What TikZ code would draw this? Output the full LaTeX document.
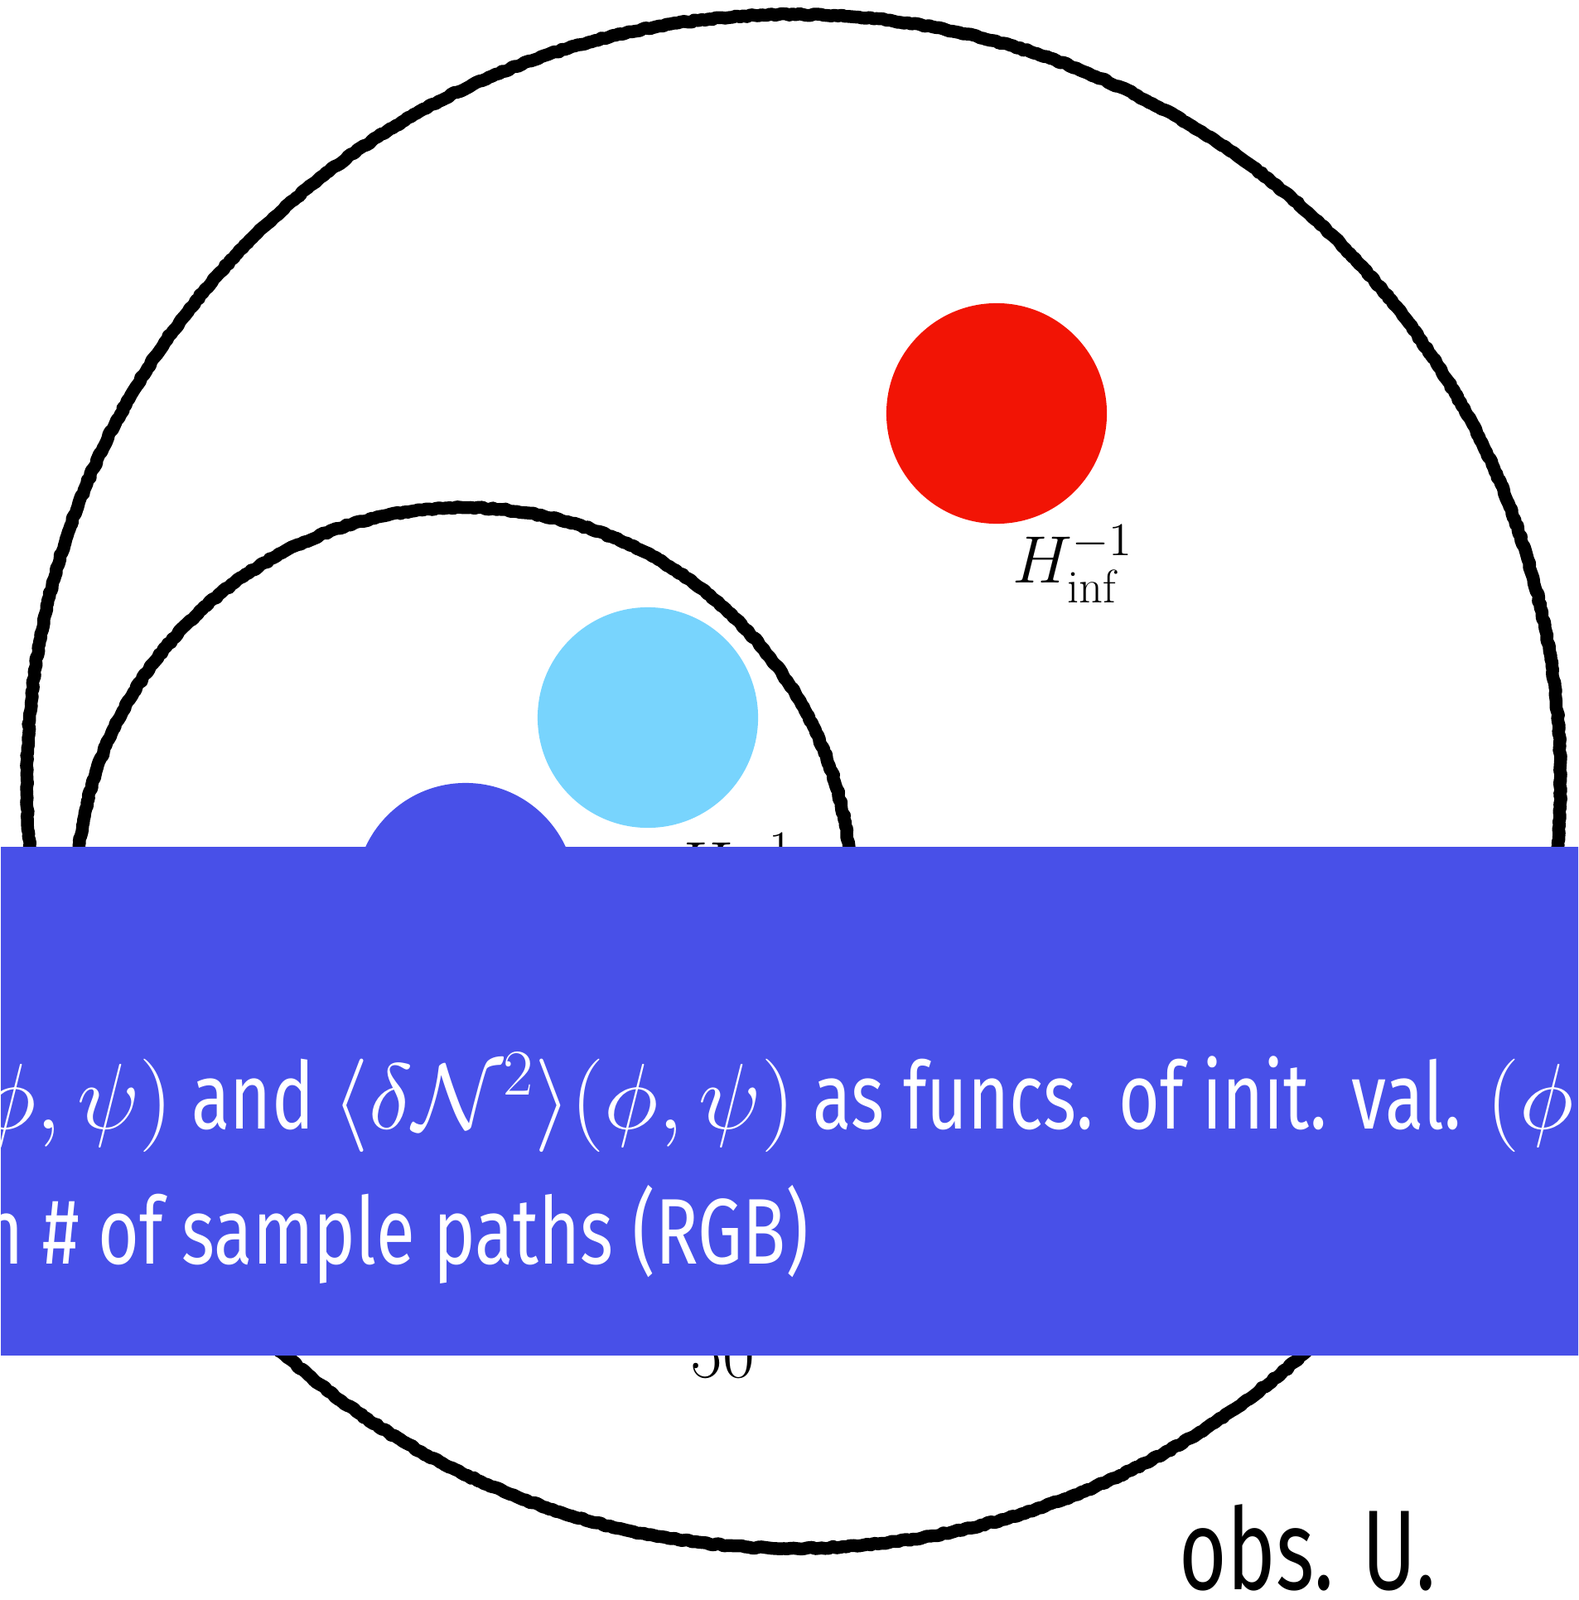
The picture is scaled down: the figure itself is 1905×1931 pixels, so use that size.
\RequirePackage{fix-cm}
\documentclass[tikz,border=0pt]{standalone}
\usepackage{amsmath,amssymb}
\usepackage{fontspec}
\newfontfamily\dosisfont[FakeStretch=0.76]{Fira Sans}
\newfontfamily\obsfont[FakeStretch=0.72]{Fira Sans}
\usetikzlibrary{decorations.pathmorphing, positioning}
\definecolor{bannerblue}{RGB}{72,80,232}
\definecolor{infred}{RGB}{242,20,5}
\definecolor{skyblue}{RGB}{120,212,253}

\tikzset{
  ringline/.style={line width=4.4pt, line join=round, decorate,
    decoration={random steps, segment length=1.2pt, amplitude=0.3pt}},
  dot/.style={circle, inner sep=0pt, minimum size=2.66cm},
  hlabel/.style={anchor=base west, inner sep=0pt, font=\fontsize{23}{28}\selectfont},
  bannertext/.style={anchor=base west, inner sep=0pt, text=white,
    font=\dosisfont\fontsize{32}{38}\selectfont},
}

\begin{document}
\begin{tikzpicture}[x=0.01cm, y=-0.01cm]
  \useasboundingbox (0,0) rectangle (1905,1931);
  \clip (0,0) rectangle (1905,1931);

  % rings
  \draw[ringline] (958,943) circle [radius=9.25cm];
  \draw[ringline] (560,1081) circle [radius=4.68cm];

  % dots and their labels
  \node[dot, fill=infred] (reddot) at (1203,499) {};
  \node[dot, fill=skyblue] (skydot) at (782,866) {};
  \node[dot, fill=bannerblue] (bluedot) at (562,1078) {};
  \node[hlabel] (redlabel) at (1222,703) {$H^{-1}_{\mathrm{inf}}$};
  \node[hlabel] (skylabel) at (812,1072) {$H^{-1}$};
  \node[font=\fontsize{24}{28}\selectfont, anchor=base, inner sep=0pt]
    (countlabel) at (872,1662) {50};

  % banner
  \node[fill=bannerblue, anchor=north west, inner sep=0pt,
    minimum width=19.05cm, minimum height=6.14cm] (banner) at (0,1021) {};
  \node[bannertext] (lineA) at (-22,1362)
    {$\phi, \psi)$ and $\langle \delta \mathcal{N}^2 \rangle (\phi, \psi)$ as funcs. of init. val. $(\phi,$};
  \node[bannertext] (lineB) at (-22,1525) {n \# of sample paths (RGB)};

  \node[anchor=base west, inner sep=0pt, font=\obsfont\fontsize{39}{44}\selectfont]
    (obslabel) at (1423,1918) {obs. U.};
\end{tikzpicture}
\end{document}
